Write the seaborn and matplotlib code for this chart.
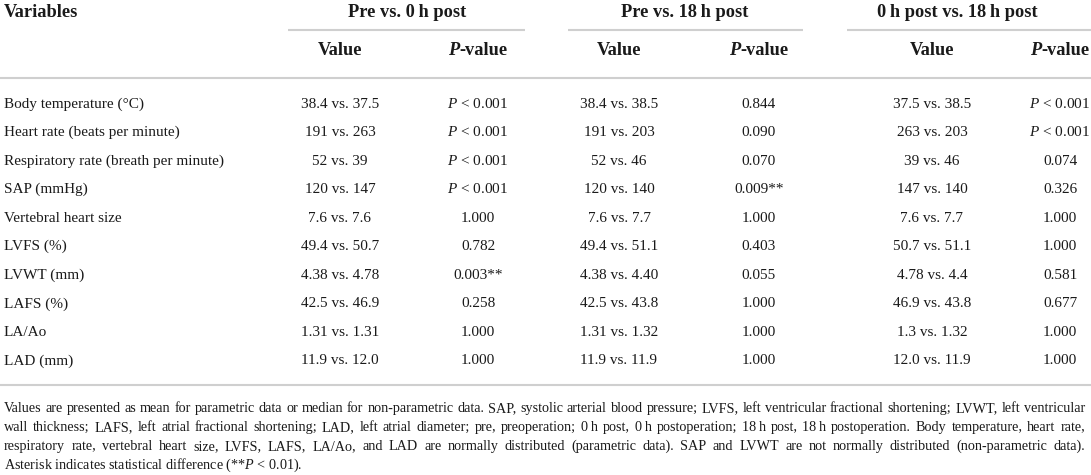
import numpy as np
import pandas as pd
import seaborn as sns
import matplotlib.pyplot as plt

variables = ["Body temperature (\u00b0C)", "Heart rate (beats per minute)",
             "Respiratory rate (breath per minute)", "SAP (mmHg)",
             "Vertebral heart size", "LVFS (%)", "LVWT (mm)", "LAFS (%)",
             "LA/Ao", "LAD (mm)"]
pre_0h_value = ["38.4 vs. 37.5", "191 vs. 263", "52 vs. 39", "120 vs. 147",
                "7.6 vs. 7.6", "49.4 vs. 50.7", "4.38 vs. 4.78", "42.5 vs. 46.9",
                "1.31 vs. 1.31", "11.9 vs. 12.0"]
pre_0h_p = ["$P$ < 0.001", "$P$ < 0.001", "$P$ < 0.001", "$P$ < 0.001",
            "1.000", "0.782", "0.003**", "0.258", "1.000", "1.000"]
pre_18h_value = ["38.4 vs. 38.5", "191 vs. 203", "52 vs. 46", "120 vs. 140",
                 "7.6 vs. 7.7", "49.4 vs. 51.1", "4.38 vs. 4.40", "42.5 vs. 43.8",
                 "1.31 vs. 1.32", "11.9 vs. 11.9"]
pre_18h_p = ["0.844", "0.090", "0.070", "0.009**", "1.000", "0.403", "0.055",
             "1.000", "1.000", "1.000"]
post0_18h_value = ["37.5 vs. 38.5", "263 vs. 203", "39 vs. 46", "147 vs. 140",
                   "7.6 vs. 7.7", "50.7 vs. 51.1", "4.78 vs. 4.4", "46.9 vs. 43.8",
                   "1.3 vs. 1.32", "12.0 vs. 11.9"]
post0_18h_p = ["$P$ < 0.001", "$P$ < 0.001", "0.074", "0.326", "1.000", "1.000",
               "0.581", "0.677", "1.000", "1.000"]
groups = ["Pre vs. 0\u2009h post", "Pre vs. 18\u2009h post", "0\u2009h post vs. 18\u2009h post"]

notes = [
    "Values are presented as mean for parametric data or median for non-parametric data. SAP, systolic arterial blood pressure; LVFS, left ventricular fractional shortening; LVWT, left ventricular",
    "wall thickness; LAFS, left atrial fractional shortening; LAD, left atrial diameter; pre, preoperation; 0\u2009h post, 0\u2009h postoperation; 18\u2009h post, 18\u2009h postoperation. Body temperature, heart rate,",
    "respiratory rate, vertebral heart size, LVFS, LAFS, LA/Ao, and LAD are normally distributed (parametric data). SAP and LVWT are not normally distributed (non-parametric data).",
    "Asterisk indicates statistical difference (**$P$ < 0.01).",
]

df = pd.DataFrame({"var": variables,
                   "v1": pre_0h_value, "p1": pre_0h_p,
                   "v2": pre_18h_value, "p2": pre_18h_p,
                   "v3": post0_18h_value, "p3": post0_18h_p})

sns.set_theme(style="white")
plt.rcParams['font.family'] = ['Liberation Serif', 'DejaVu Serif']
plt.rcParams['mathtext.fontset'] = 'custom'
plt.rcParams['mathtext.rm'] = 'Liberation Serif'
plt.rcParams['mathtext.it'] = 'Liberation Serif:italic'
plt.rcParams['mathtext.bf'] = 'Liberation Serif:bold'

W, H = 1091, 475
fig = plt.figure(figsize=(W / 100, H / 100), dpi=100)
ax = fig.add_axes([0, 0, 1, 1])
ax.set_xlim(0, W)
ax.set_ylim(H, 0)
ax.axis("off")
renderer = fig.canvas.get_renderer()

ink = "#1a1a1a"
rule = "#cfcfcf"
body_fs = 11
head_fs = 13.2

value_x = [340, 619, 932]
p_x = [478, 759, 1060]
group_x = [407, 685, 957]
group_lines = [(288, 525), (568, 803), (847, 1091)]

# header (y values are baselines)
ax.text(4, 17, "Variables", fontsize=head_fs, fontweight="bold", color=ink, va="baseline")
for g, gx, (a, b) in zip(groups, group_x, group_lines):
    ax.text(gx, 17, g, fontsize=head_fs, fontweight="bold", color=ink, ha="center", va="baseline")
    ax.plot([a, b], [30, 30], color=rule, lw=1.5, solid_capstyle="butt")
for vx, px in zip(value_x, p_x):
    ax.text(vx, 55, "Value", fontsize=head_fs, fontweight="bold", color=ink, ha="center", va="baseline")
    # bold italic P followed by bold "-value", centred as one piece
    tp = ax.text(0, 55, "P", fontsize=head_fs, fontweight="bold", fontstyle="italic",
                 color=ink, va="baseline")
    tr = ax.text(0, 55, "-value", fontsize=head_fs, fontweight="bold", color=ink, va="baseline")
    wp = tp.get_window_extent(renderer).width
    wr = tr.get_window_extent(renderer).width
    x0 = px - (wp + wr) / 2
    tp.set_x(x0)
    tr.set_x(x0 + wp)
ax.plot([0, W], [78, 78], color=rule, lw=1.5, solid_capstyle="butt")

# body rows
row_y = 107.5 + np.arange(len(df)) * 28.55
for y, (_, r) in zip(row_y, df.iterrows()):
    ax.text(4, y, r["var"], fontsize=body_fs, color=ink, va="baseline")
    for k in range(3):
        ax.text(value_x[k], y, r[f"v{k+1}"], fontsize=body_fs, color=ink, ha="center", va="baseline")
        ax.text(p_x[k], y, r[f"p{k+1}"], fontsize=body_fs, color=ink, ha="center", va="baseline")
ax.plot([0, W], [385, 385], color=rule, lw=1.5, solid_capstyle="butt")

# footnote, justified like the source
left, right = 4, 1085
probe = ax.text(0, 0, notes[0], fontsize=10, va="baseline")
note_fs = 10 * (right - left - 2) / probe.get_window_extent(renderer).width
probe.remove()

note_y = [412, 431, 450, 469]
for i, (line, y) in enumerate(zip(notes, note_y)):
    if i == len(notes) - 1:
        ax.text(left, y, line, fontsize=note_fs, color=ink, va="baseline")
        continue
    words = line.split(" ")
    texts = [ax.text(0, y, w, fontsize=note_fs, color=ink, va="baseline") for w in words]
    widths = [t.get_window_extent(renderer).width for t in texts]
    gap = (right - left - sum(widths)) / (len(words) - 1)
    x = left
    for t, w in zip(texts, widths):
        t.set_x(x)
        x += w + gap

fig.savefig("out.png", dpi=100)
